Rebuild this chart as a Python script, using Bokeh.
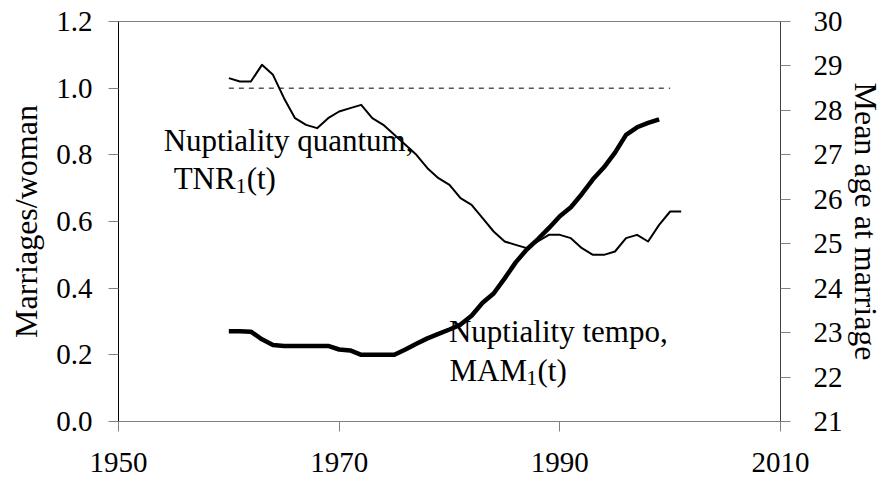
from bokeh.plotting import figure
from bokeh.models import Range1d, LinearAxis, FixedTicker, Label, NumeralTickFormatter
from bokeh.embed import file_html
from bokeh.resources import INLINE

# ---- data ----
tnr_years = list(range(1960, 2002))
tnr_values = [1.03, 1.02, 1.02, 1.07, 1.04, 0.97, 0.91, 0.89, 0.88, 0.91,
              0.93, 0.94, 0.95, 0.91, 0.89, 0.86, 0.83, 0.80, 0.76, 0.73,
              0.71, 0.67, 0.65, 0.61, 0.57, 0.54, 0.53, 0.52, 0.54, 0.56,
              0.56, 0.55, 0.52, 0.50, 0.50, 0.51, 0.55, 0.56, 0.54, 0.59,
              0.63, 0.63]
mam_years = list(range(1960, 2000))
mam_values = [23.03, 23.03, 23.02, 22.85, 22.72, 22.70, 22.70, 22.70, 22.70, 22.70,
              22.62, 22.60, 22.50, 22.50, 22.50, 22.50, 22.62, 22.75, 22.87, 22.97,
              23.07, 23.18, 23.38, 23.67, 23.88, 24.22, 24.58, 24.87, 25.10, 25.35,
              25.62, 25.82, 26.12, 26.45, 26.72, 27.05, 27.45, 27.62, 27.72, 27.80]
ref_years = [1960, 2000]
ref_level = [1.0, 1.0]

x_ticks = [1950, 1970, 1990, 2010]
left_ticks = [0.0, 0.2, 0.4, 0.6, 0.8, 1.0, 1.2]
right_ticks = [21, 22, 23, 24, 25, 26, 27, 28, 29, 30]

FONT = "Liberation Serif"

p = figure(width=887, height=483, output_backend="svg", toolbar_location=None,
           x_range=Range1d(1950, 2010), y_range=Range1d(0, 1.2),
           min_border_left=118, min_border_right=107, min_border_top=21,
           min_border_bottom=62, background_fill_color="white",
           border_fill_color="white")
p.extra_y_ranges = {"age": Range1d(21, 30)}
p.grid.visible = False
p.outline_line_color = "#808080"
p.outline_line_width = 1

def style_axis(ax, label_size="29px"):
    ax.major_tick_out = 10
    ax.major_tick_in = 0
    ax.minor_tick_line_color = None
    ax.major_tick_line_color = "#808080"
    ax.major_label_text_font = FONT
    ax.major_label_text_font_size = label_size
    ax.major_label_text_color = "black"
    ax.axis_label_text_font = FONT
    ax.axis_label_text_font_size = "32px"
    ax.axis_label_text_font_style = "normal"
    ax.axis_label_text_color = "black"

xa = p.xaxis[0]
style_axis(xa)
xa.ticker = FixedTicker(ticks=x_ticks)
xa.axis_line_color = "#808080"
xa.major_label_standoff = 21

ya = p.yaxis[0]
style_axis(ya)
ya.ticker = FixedTicker(ticks=left_ticks)
ya.formatter = NumeralTickFormatter(format="0.0")
ya.axis_line_color = "black"
ya.major_label_standoff = 16
ya.axis_label = "Marriages/woman"
ya.axis_label_standoff = 9

ra = LinearAxis(y_range_name="age")
style_axis(ra)
ra.ticker = FixedTicker(ticks=right_ticks)
ra.axis_line_color = "#404040"
ra.major_label_standoff = 23
ra.axis_label = "Mean age at marriage"
ra.axis_label_standoff = 2
p.add_layout(ra, "right")

p.line(ref_years, ref_level, line_color="black", line_width=1, line_dash="5 5")
p.line(tnr_years, tnr_values, line_color="black", line_width=2, line_join="round")
p.line(mam_years, mam_values, line_color="black", line_width=4.5, line_join="round",
       y_range_name="age")

def add_text(x, y, text, size="31px", xo=0, yo=0):
    p.add_layout(Label(x=x, y=y, text=text, x_offset=xo, y_offset=yo,
                       text_font=FONT, text_font_size=size, text_color="black",
                       text_baseline="alphabetic", text_align="left"))

add_text(1954.1, 0.843, "Nuptiality quantum,")
add_text(1955.0, 0.728, "TNR")
add_text(1955.0, 0.728, "1", size="21px", xo=62, yo=-7)
add_text(1955.0, 0.728, "(t)", xo=73)
add_text(1979.95, 0.270, "Nuptiality tempo,")
add_text(1980.0, 0.153, "MAM")
add_text(1980.0, 0.153, "1", size="21px", xo=77, yo=-7)
add_text(1980.0, 0.153, "(t)", xo=88)

open("out.html", "w").write(file_html(p, INLINE))
